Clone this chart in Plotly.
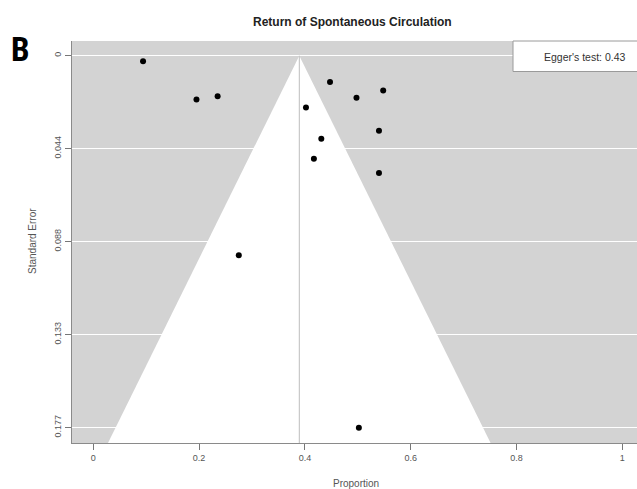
import plotly.graph_objects as go

# ---- data ----
proportion = [0.094, 0.195, 0.235, 0.4475, 0.548, 0.4975, 0.402, 0.540, 0.431, 0.417, 0.540, 0.275, 0.502]
std_error = [0.0027, 0.0209, 0.0193, 0.0125, 0.0166, 0.0200, 0.0247, 0.0357, 0.0396, 0.0491, 0.0559, 0.0951, 0.1772]
pooled_estimate = 0.3894
se_max = 0.1772
y_bottom = 0.1845
y_top = -0.0070
x_ticks = [0, 0.2, 0.4, 0.6, 0.8, 1]
x_ticktext = ["0", "0.2", "0.4", "0.6", "0.8", "1"]
y_ticks = [0, se_max / 4, se_max / 2, 3 * se_max / 4, se_max]
y_ticktext = ["0", "0.044", "0.088", "0.133", "0.177"]
egger_text = "Egger's test: 0.43"
title_text = "Return of Spontaneous Circulation"

W, H = 637, 489
ML, MT, MB, MR = 72, 41, 46, 0
x_range = [-0.0403, 1.0278]

fig = go.Figure()

# funnel (white triangle)
fig.add_trace(go.Scatter(
    x=[pooled_estimate - 1.96 * y_bottom, pooled_estimate, pooled_estimate + 1.96 * y_bottom],
    y=[y_bottom, 0, y_bottom],
    mode="lines", fill="toself", fillcolor="white",
    line=dict(color="white", width=0), hoverinfo="skip", showlegend=False))

# vertical reference line at pooled estimate
fig.add_trace(go.Scatter(
    x=[pooled_estimate, pooled_estimate], y=[0, y_bottom],
    mode="lines", line=dict(color="#bdbdbd", width=1),
    hoverinfo="skip", showlegend=False))

# study points
fig.add_trace(go.Scatter(
    x=proportion, y=std_error, mode="markers",
    marker=dict(color="black", size=6), showlegend=False))

axis_font = dict(family="Liberation Sans, Arial, sans-serif", size=9, color="#555555")

fig.update_layout(
    width=W, height=H,
    margin=dict(l=ML, r=MR, t=MT, b=MB, pad=0),
    paper_bgcolor="white",
    plot_bgcolor="#d3d3d3",
    showlegend=False,
    xaxis=dict(range=x_range, tickvals=x_ticks, ticktext=x_ticktext,
               showgrid=False, zeroline=False, ticks="outside", ticklen=6,
               tickcolor="#777777", showline=True, linecolor="#8a8a8a", linewidth=1,
               tickfont=axis_font, automargin=False, fixedrange=True),
    yaxis=dict(range=[y_bottom, y_top], tickvals=y_ticks, ticktext=y_ticktext,
               showgrid=True, gridcolor="white", gridwidth=1, zeroline=False,
               ticks="outside", ticklen=6, tickcolor="#777777", tickangle=-90,
               showline=True, linecolor="#8a8a8a", linewidth=1,
               tickfont=axis_font, automargin=False, fixedrange=True),
)

# Egger's test box (extends past the right edge)
pw = W - ML - MR
ph = H - MT - MB
def py(pix):
    return (H - MB - pix) / ph

fig.add_shape(type="rect", xref="paper", yref="paper",
              x0=(513 - ML) / pw, x1=(660 - ML) / pw,
              y0=py(71.5), y1=1.0,
              line=dict(color="#9a9a9a", width=1), fillcolor="white", layer="above")

fig.add_annotation(text=egger_text, xref="paper", yref="paper",
                   x=(542 - ML) / pw, y=py(57), xanchor="left", yanchor="middle",
                   showarrow=False,
                   font=dict(family="Liberation Sans, Arial, sans-serif", size=10.5, color="#333333"))

# title
fig.add_annotation(text="<b>" + title_text + "</b>", xref="paper", yref="paper",
                   x=(352 - ML) / pw, y=py(22), xanchor="center", yanchor="middle",
                   showarrow=False,
                   font=dict(family="Liberation Sans, Arial, sans-serif", size=12, color="#222222"))

# panel letter
fig.add_annotation(text="<b>B</b>", xref="paper", yref="paper",
                   x=(20.5 - ML) / pw, y=py(49), xanchor="center", yanchor="middle",
                   showarrow=False,
                   font=dict(family="Liberation Sans Narrow, Roboto Condensed, Liberation Sans, sans-serif",
                             size=33, color="black"))

# axis titles
fig.add_annotation(text="Proportion", xref="paper", yref="paper",
                   x=(356 - ML) / pw, y=py(483), xanchor="center", yanchor="middle",
                   showarrow=False,
                   font=dict(family="Liberation Sans, Arial, sans-serif", size=10, color="#555555"))
fig.add_annotation(text="Standard Error", xref="paper", yref="paper",
                   x=(33 - ML) / pw, y=py(241), xanchor="center", yanchor="middle",
                   textangle=-90, showarrow=False,
                   font=dict(family="Liberation Sans, Arial, sans-serif", size=10, color="#555555"))

fig.write_html("out.html")
